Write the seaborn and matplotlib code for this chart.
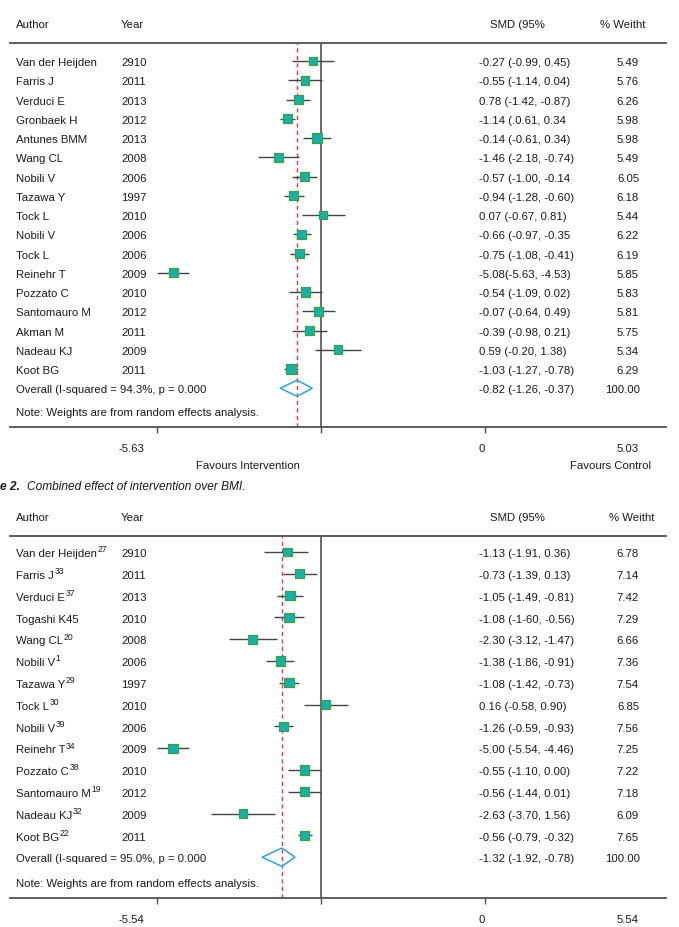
import matplotlib
matplotlib.use("Agg")
import matplotlib.pyplot as plt
import matplotlib.transforms as mtransforms
from matplotlib import font_manager
import seaborn as sns

# ---- data: panel 1 (BMI) ----
authors1 = ["Van der Heijden", "Farris J", "Verduci E", "Gronbaek H", "Antunes BMM", "Wang CL",
            "Nobili V", "Tazawa Y", "Tock L", "Nobili V", "Tock L", "Reinehr T", "Pozzato C",
            "Santomauro M", "Akman M", "Nadeau KJ", "Koot BG"]
refs1 = [""] * len(authors1)
years1 = ["2910", "2011", "2013", "2012", "2013", "2008", "2006", "1997", "2010", "2006", "2006",
          "2009", "2010", "2012", "2011", "2009", "2011"]
est1 = [-0.27, -0.55, -0.78, -1.14, -0.14, -1.46, -0.57, -0.94, 0.07, -0.66, -0.75, -5.08, -0.54,
        -0.07, -0.39, 0.59, -1.03]
lo1 = [-0.99, -1.14, -1.20, -1.40, -0.61, -2.18, -1.00, -1.28, -0.67, -0.97, -1.08, -5.63, -1.09,
       -0.64, -0.98, -0.20, -1.27]
hi1 = [0.45, 0.04, -0.38, -0.88, 0.34, -0.74, -0.14, -0.60, 0.81, -0.35, -0.41, -4.53, 0.02,
       0.49, 0.21, 1.38, -0.78]
ci_text1 = ["-0.27 (-0.99, 0.45)", "-0.55 (-1.14, 0.04)", "0.78 (-1.42, -0.87)", "-1.14 (.0.61, 0.34",
            "-0.14 (-0.61, 0.34)", "-1.46 (-2.18, -0.74)", "-0.57 (-1.00, -0.14", "-0.94 (-1.28, -0.60)",
            "0.07 (-0.67, 0.81)", "-0.66 (-0.97, -0.35", "-0.75 (-1.08, -0.41)", "-5.08(-5.63, -4.53)",
            "-0.54 (-1.09, 0.02)", "-0.07 (-0.64, 0.49)", "-0.39 (-0.98, 0.21)", "0.59 (-0.20, 1.38)",
            "-1.03 (-1.27, -0.78)"]
weights1 = [5.49, 5.76, 6.26, 5.98, 5.98, 5.49, 6.05, 6.18, 5.44, 6.22, 6.19, 5.85, 5.83, 5.81,
            5.75, 5.34, 6.29]
overall1 = {"est": -0.82, "lo": -1.40, "hi": -0.30, "text": "-0.82 (-1.26, -0.37)",
            "label": "Overall (I-squared = 94.3%, p = 0.000"}
axis_labels1 = ["-5.63", "0", "5.03"]

# ---- data: panel 2 ----
authors2 = ["Van der Heijden", "Farris J", "Verduci E", "Togashi K45", "Wang CL", "Nobili V",
            "Tazawa Y", "Tock L", "Nobili V", "Reinehr T", "Pozzato C", "Santomauro M",
            "Nadeau KJ", "Koot BG"]
refs2 = ["27", "33", "37", "", "20", "1", "29", "30", "39", "34", "38", "19", "32", "22"]
years2 = ["2910", "2011", "2013", "2010", "2008", "2006", "1997", "2010", "2006", "2009", "2010",
          "2012", "2009", "2011"]
est2 = [-1.13, -0.73, -1.05, -1.08, -2.30, -1.38, -1.08, 0.16, -1.26, -5.00, -0.55, -0.56, -2.63, -0.56]
lo2 = [-1.91, -1.30, -1.49, -1.60, -3.12, -1.86, -1.42, -0.58, -1.59, -5.54, -1.10, -1.12, -3.70, -0.79]
hi2 = [-0.45, -0.13, -0.61, -0.56, -1.47, -0.91, -0.73, 0.90, -0.93, -4.46, 0.00, 0.01, -1.56, -0.32]
ci_text2 = ["-1.13 (-1.91, 0.36)", "-0.73 (-1.39, 0.13)", "-1.05 (-1.49, -0.81)", "-1.08 (-1-60, -0.56)",
            "-2.30 (-3.12, -1.47)", "-1.38 (-1.86, -0.91)", "-1.08 (-1.42, -0.73)", "0.16 (-0.58, 0.90)",
            "-1.26 (-0.59, -0.93)", "-5.00 (-5.54, -4.46)", "-0.55 (-1.10, 0.00)", "-0.56 (-1.44, 0.01)",
            "-2.63 (-3.70, 1.56)", "-0.56 (-0.79, -0.32)"]
weights2 = [6.78, 7.14, 7.42, 7.29, 6.66, 7.36, 7.54, 6.85, 7.56, 7.25, 7.22, 7.18, 6.09, 7.65]
overall2 = {"est": -1.32, "lo": -1.99, "hi": -0.88, "text": "-1.32 (-1.92, -0.78)",
            "label": "Overall (I-squared = 95.0%, p = 0.000"}
axis_labels2 = ["-5.54", "0", "5.54"]

note = "Note: Weights are from random effects analysis."

sns.set_style("white")

# narrow sans if available
family = "Liberation Sans"
FS = 8.2
try:
    font_manager.findfont("Liberation Sans Narrow", fallback_to_default=False)
    family = "Liberation Sans Narrow"
    FS = 9.0
except Exception:
    pass
plt.rcParams["font.family"] = [family, "DejaVu Sans"]

W, H = 679, 928
fig = plt.figure(figsize=(W / 100, H / 100), dpi=100)
renderer = fig.canvas.get_renderer()

TXT = "#1a1a1a"
LINE = "#505050"
VA = "center_baseline"


def fx(px):
    return px / W


def fy(py):
    return 1 - py / H


def draw_panel(top, bottom, row0, step, scale, authors, refs, years, est, lo, hi, ci_text, weights,
               overall, tick_labels, wt_header_x):
    ax = fig.add_axes([fx(10), fy(bottom), fx(666) - fx(10), (bottom - top) / H])
    n = len(authors)
    ax.set_xlim((10 - 321) / scale, (666 - 321) / scale)
    ax.set_ylim((bottom - row0) / step, (top - row0) / step)
    rows = list(range(n))

    # confidence intervals and study markers
    ax.hlines(rows, lo, hi, color="#444444", lw=1.0, zorder=2)
    sns.scatterplot(x=est, y=rows, size=weights, sizes=(38, 46), marker="s", color="#19b0a6",
                    edgecolor="#36a04a", linewidth=0.9, legend=False, ax=ax, zorder=3)

    # overall diamond
    yo = n
    ax.fill([overall["lo"], overall["est"], overall["hi"], overall["est"]],
            [yo, yo - 0.42, yo, yo + 0.42], facecolor="none", edgecolor="#2ea3e0", lw=1.1, zorder=3)

    ax.axvline(0, color=LINE, lw=1.2, zorder=1)
    ax.axvline(overall["est"], color="#e03a44", lw=1.0, ls=(0, (3, 2.4)), zorder=1)

    for s in ["left", "right"]:
        ax.spines[s].set_visible(False)
    for s in ["top", "bottom"]:
        ax.spines[s].set_color(LINE)
        ax.spines[s].set_linewidth(1.3)
    ax.set_yticks([])
    ax.set_xticks([-5.63 * 29.1 / scale, 0, 5.63 * 29.1 / scale])
    ax.set_xticklabels([])
    ax.tick_params(axis="x", direction="out", length=4, width=1, color=LINE, bottom=True)
    ax.set_xlabel("")
    ax.set_ylabel("")

    # row text sits on a common baseline, a little below the row centre
    base = mtransforms.blended_transform_factory(fig.transFigure, ax.transData)
    tr = mtransforms.offset_copy(base, fig=fig, y=-3.0, units="points")
    tr_sup = mtransforms.offset_copy(base, fig=fig, y=0.4, units="points")
    kw = dict(transform=tr, va="baseline", fontsize=FS, color=TXT)
    for i in rows:
        t = ax.text(fx(16), i, authors[i], ha="left", **kw)
        if refs[i]:
            bb = t.get_window_extent(renderer)
            ax.text(bb.x1 / fig.bbox.width + fx(0.5), i, refs[i], transform=tr_sup, ha="left",
                    va="baseline", fontsize=FS * 0.76, color=TXT)
        ax.text(fx(121), i, years[i], ha="left", **kw)
        ax.text(fx(479), i, ci_text[i], ha="left", **kw)
        ax.text(fx(639), i, f"{weights[i]:.2f}", ha="right", **kw)
    ax.text(fx(16), yo, overall["label"], ha="left", **kw)
    ax.text(fx(479), yo, overall["text"], ha="left", **kw)
    ax.text(fx(640), yo, "100.00", ha="right", **kw)
    ax.text(fx(16), yo + 1.15, note, ha="left", **kw)

    # header
    hy = fy(top - 20)
    fig.text(fx(16), hy, "Author", ha="left", va=VA, fontsize=FS, color=TXT)
    fig.text(fx(121), hy, "Year", ha="left", va=VA, fontsize=FS, color=TXT)
    fig.text(fx(517), hy, "SMD (95%", ha="center", va=VA, fontsize=FS, color=TXT)
    fig.text(fx(wt_header_x), hy, "% Weitht", ha="center", va=VA, fontsize=FS, color=TXT)

    # axis labels
    ly = fy(bottom + 20)
    for x, lab in zip([131, 482, 628], tick_labels):
        fig.text(fx(x), ly, lab, ha="center", va=VA, fontsize=FS, color=TXT)
    return ax


draw_panel(44, 428, 62, 19.25, 29.1, authors1, refs1, years1, est1, lo1, hi1, ci_text1, weights1,
           overall1, axis_labels1, 623)
fig.text(fx(248), fy(465), "Favours Intervention", ha="center", va=VA, fontsize=FS, color=TXT)
fig.text(fx(611), fy(465), "Favours Control", ha="center", va=VA, fontsize=FS, color=TXT)
fig.text(fx(0), fy(486), "e 2.", ha="left", va=VA, fontsize=8.6, color=TXT,
         fontweight="bold", fontstyle="italic", family=["Liberation Sans", "DejaVu Sans"])
fig.text(fx(27), fy(486), "Combined effect of intervention over BMI.", ha="left", va=VA,
         fontsize=8.6, color=TXT, fontstyle="italic", family=["Liberation Sans", "DejaVu Sans"])

draw_panel(537, 899, 553, 21.8, 29.6, authors2, refs2, years2, est2, lo2, hi2, ci_text2, weights2,
           overall2, axis_labels2, 632)

fig.savefig("out.png", dpi=100)
